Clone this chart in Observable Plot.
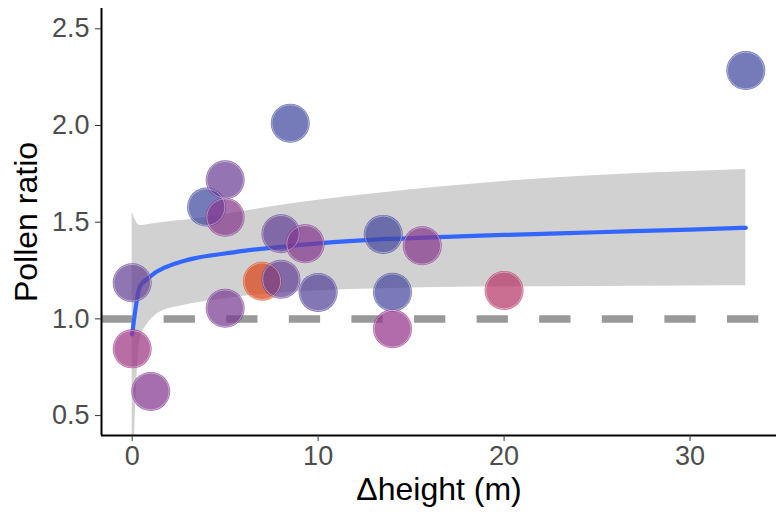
<!DOCTYPE html>
<html>
<head>
<meta charset="utf-8">
<script src="https://cdn.jsdelivr.net/npm/d3@7"></script>
<script src="https://cdn.jsdelivr.net/npm/@observablehq/plot@0.6"></script>
<style>
  body { margin: 0; background: #fff; }
  svg { font-family: "Liberation Sans", Arial, sans-serif; }
</style>
</head>
<body>
<div id="chart"></div>
<script>
// Observed points
const ptX = [0, 0, 1, 4, 5, 5, 5, 7, 8, 8, 9.3, 8.5, 10, 13.5, 14, 14, 15.6, 20, 33];
const ptY = [1.187, 0.845, 0.625, 1.578, 1.719, 1.526, 1.055, 1.195, 1.205, 1.44, 1.388, 2.012, 1.137, 1.437, 1.138, 0.949, 1.378, 1.147, 2.284];
const ptC = [0.35, 0.65, 0.5, 0.05, 0.38, 0.52, 0.45, 1.0, 0.35, 0.33, 0.5, 0.05, 0.2, 0.08, 0.1, 0.6, 0.52, 0.8, 0.05];

// Fitted curve and confidence band
const fitX  = [0, 0.42, 0.84, 1.25, 1.67, 2.5, 3.34, 5, 6, 7.5, 10, 13.5, 16.5, 20, 25, 30, 33];
const fitY  = [0.92, 1.169, 1.208, 1.24, 1.262, 1.292, 1.313, 1.338, 1.352, 1.367, 1.39, 1.412, 1.423, 1.434, 1.448, 1.462, 1.471];
const fitLo = [0.05, 0.89, 0.976, 1.018, 1.043, 1.064, 1.081, 1.104, 1.117, 1.13, 1.145, 1.156, 1.162, 1.166, 1.168, 1.17, 1.171];
const fitHi = [1.552, 1.483, 1.487, 1.493, 1.498, 1.507, 1.517, 1.54, 1.556, 1.58, 1.613, 1.652, 1.682, 1.711, 1.742, 1.762, 1.773];

const refY = 1.0;
const xTicks = [0, 10, 20, 30];
const yTicks = [0.5, 1.0, 1.5, 2.0, 2.5];

const points = ptX.map((x, i) => ({x, y: ptY[i], c: ptC[i]}));
const fit = fitX.map((x, i) => ({x, y: fitY[i], lo: fitLo[i], hi: fitHi[i]}));

const xDom = [-1.65, 34.65];
const yDom = [0.397, 2.605];

const chart = Plot.plot({
  width: 776,
  height: 516,
  marginLeft: 101,
  marginRight: 0,
  marginTop: 8,
  marginBottom: 81,
  x: {domain: xDom},
  y: {domain: yDom},
  color: {
    type: "linear",
    domain: [0, 0.35, 0.6, 0.8, 1],
    range: ["#3a48a0", "#654095", "#96338b", "#b63866", "#dc4418"]
  },
  marks: [
    Plot.areaY(fit, {x: "x", y1: "lo", y2: "hi", fill: "#999", fillOpacity: 0.45, clip: true, curve: "monotone-x"}),
    Plot.ruleY([refY], {stroke: "#999", strokeWidth: 7.5, strokeDasharray: "31.3 31.3"}),
    Plot.line(fit, {x: "x", y: "y", stroke: "#3366ff", strokeWidth: 4.2, clip: true, curve: "monotone-x"}),
    Plot.dot(points, {x: "x", y: "y", r: 19.5, fill: "c", fillOpacity: 0.72, stroke: "none"}),
    Plot.dot(points, {x: "x", y: "y", r: 18.3, fill: "none", stroke: "#fff", strokeOpacity: 0.45, strokeWidth: 0.9}),
    Plot.ruleX([xDom[0]], {stroke: "#000", strokeWidth: 2}),
    Plot.ruleY([yDom[0]], {stroke: "#000", strokeWidth: 2}),
    Plot.axisX({ticks: xTicks, tickSize: 6, tickPadding: 4, fontSize: 27, stroke: "#333", fill: "#4d4d4d", label: null}),
    Plot.axisY({ticks: yTicks, tickSize: 6, tickPadding: 6, fontSize: 27, stroke: "#333", fill: "#4d4d4d", label: null, tickFormat: d3.format(".1f")}),
    Plot.text(["Pollen ratio"], {frameAnchor: "left", dx: -75, rotate: -90, fontSize: 32, fill: "#000", textAnchor: "middle"}),
    Plot.text(["\u0394height (m)"], {frameAnchor: "bottom", dy: 64, fontSize: 32, fill: "#000", textAnchor: "middle"})
  ]
});
document.getElementById("chart").appendChild(chart);
</script>
</body>
</html>
